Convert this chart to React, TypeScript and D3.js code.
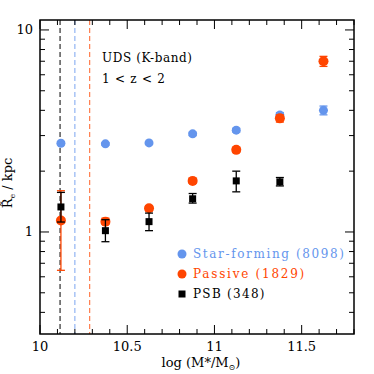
import React, { useEffect, useRef } from "react";
import * as d3 from "d3";

// log stellar mass bin centres
const massBins = [10.12, 10.375, 10.625, 10.875, 11.125, 11.375, 11.625];

// median effective radius (kpc) with error bars
const starForming = [2.75, 2.73, 2.76, 3.06, 3.19, 3.79, 4.0];
const starFormingLo = [2.7, 2.69, 2.72, 3.0, 3.12, 3.68, 3.8];
const starFormingHi = [2.8, 2.77, 2.8, 3.12, 3.26, 3.9, 4.2];

const passive = [1.14, 1.125, 1.31, 1.79, 2.55, 3.65, 7.0];
const passiveLo = [0.646, 1.09, 1.27, 1.74, 2.48, 3.5, 6.6];
const passiveHi = [1.6, 1.17, 1.35, 1.84, 2.62, 3.8, 7.4];

const psbMasses = [10.12, 10.375, 10.625, 10.875, 11.125, 11.375];
const psb = [1.33, 1.015, 1.125, 1.46, 1.79, 1.77];
const psbLo = [1.12, 0.895, 1.015, 1.39, 1.58, 1.69];
const psbHi = [1.57, 1.15, 1.24, 1.55, 2.0, 1.86];

// mass completeness limits
const limits = [
  { mass: 10.115, color: "#000000" },
  { mass: 10.2, color: "#6495ed" },
  { mass: 10.285, color: "#ff4500" },
];

const xTicks = [10, 10.5, 11, 11.5];
const yTicks = [1, 10];

const legendItems = [
  { label: "Star-forming (8098)", color: "#6495ed", shape: "circle" },
  { label: "Passive (1829)", color: "#ff4500", shape: "circle" },
  { label: "PSB (348)", color: "#000000", shape: "square" },
];

const W = 374;
const H = 374;
const margin = { left: 40, right: 20, top: 20, bottom: 40 };
const FONT = "'DejaVu Serif', serif";

const App = () => {
  const ref = useRef<SVGSVGElement>(null);

  useEffect(() => {
    const svg = d3.select(ref.current);
    svg.selectAll("*").remove();

    const x = d3.scaleLinear().domain([10, 11.8]).range([margin.left, W - margin.right]);
    const y = d3.scaleLog().domain([0.3126, 11.2]).range([H - margin.bottom, margin.top]);
    const [x0, x1] = x.range();
    const [y0, y1] = y.range();

    const g = svg.append("g");

    // dashed limits
    limits.forEach(l => {
      g.append("line")
        .attr("x1", x(l.mass)).attr("x2", x(l.mass))
        .attr("y1", y1).attr("y2", y0)
        .attr("stroke", l.color)
        .attr("stroke-width", 1)
        .attr("stroke-opacity", l.color === "#000000" ? 1 : 0.85)
        .attr("stroke-dasharray", "5,3");
    });

    // minor/major ticks
    const xMinor = d3.range(10, 11.81, 0.1);
    xMinor.forEach(v => {
      const major = Math.abs(v * 2 - Math.round(v * 2)) < 1e-6;
      const len = major ? 9 : 5;
      g.append("line").attr("x1", x(v)).attr("x2", x(v)).attr("y1", y0).attr("y2", y0 - len)
        .attr("stroke", "#000").attr("stroke-width", 1);
      g.append("line").attr("x1", x(v)).attr("x2", x(v)).attr("y1", y1).attr("y2", y1 + len)
        .attr("stroke", "#000").attr("stroke-width", 1);
    });
    const yMinor = [0.4, 0.5, 0.6, 0.7, 0.8, 0.9, 1, 2, 3, 4, 5, 6, 7, 8, 9, 10];
    yMinor.forEach(v => {
      const len = yTicks.includes(v) ? 9 : 5;
      g.append("line").attr("x1", x0).attr("x2", x0 + len).attr("y1", y(v)).attr("y2", y(v))
        .attr("stroke", "#000").attr("stroke-width", 1);
      g.append("line").attr("x1", x1).attr("x2", x1 - len).attr("y1", y(v)).attr("y2", y(v))
        .attr("stroke", "#000").attr("stroke-width", 1);
    });

    g.append("rect")
      .attr("x", x0).attr("y", y1)
      .attr("width", x1 - x0).attr("height", y0 - y1)
      .attr("fill", "none").attr("stroke", "#000").attr("stroke-width", 1.5);

    // tick labels
    xTicks.forEach(v => {
      g.append("text").attr("x", x(v)).attr("y", y0 + 17)
        .attr("text-anchor", "middle").attr("font-family", FONT).attr("font-size", 13)
        .text(String(v));
    });
    yTicks.forEach(v => {
      g.append("text").attr("x", x0 - 7).attr("y", y(v) + 4.5)
        .attr("text-anchor", "end").attr("font-family", FONT).attr("font-size", 13)
        .text(String(v));
    });

    // error bars
    const errBar = (xs: number[], lo: number[], hi: number[], color: string) => {
      xs.forEach((m, i) => {
        const cx = x(m);
        g.append("line").attr("x1", cx).attr("x2", cx).attr("y1", y(lo[i])).attr("y2", y(hi[i]))
          .attr("stroke", color).attr("stroke-width", 1.3);
        [lo[i], hi[i]].forEach(v => {
          g.append("line").attr("x1", cx - 4).attr("x2", cx + 4).attr("y1", y(v)).attr("y2", y(v))
            .attr("stroke", color).attr("stroke-width", 1.3);
        });
      });
    };

    errBar(massBins, starFormingLo, starFormingHi, "#6495ed");
    g.selectAll("circle.sf").data(starForming).enter().append("circle")
      .attr("class", "sf")
      .attr("cx", (_, i) => x(massBins[i])).attr("cy", d => y(d))
      .attr("r", 4.5).attr("fill", "#6495ed");

    errBar(massBins, passiveLo, passiveHi, "#ff4500");
    g.selectAll("circle.pa").data(passive).enter().append("circle")
      .attr("class", "pa")
      .attr("cx", (_, i) => x(massBins[i])).attr("cy", d => y(d))
      .attr("r", 5).attr("fill", "#ff4500");

    errBar(psbMasses, psbLo, psbHi, "#000");
    g.selectAll("rect.psb").data(psb).enter().append("rect")
      .attr("class", "psb")
      .attr("x", (_, i) => x(psbMasses[i]) - 3.5).attr("y", d => y(d) - 3.5)
      .attr("width", 7).attr("height", 7).attr("fill", "#000");

    // annotation
    g.append("text").attr("x", 102).attr("y", 62).attr("font-family", FONT).attr("font-size", 12)
      .attr("textLength", 90).attr("lengthAdjust", "spacing")
      .text("UDS (K-band)");
    g.append("text").attr("x", 102).attr("y", 83).attr("font-family", FONT).attr("font-size", 12)
      .attr("textLength", 63).attr("lengthAdjust", "spacing")
      .text("1 < z < 2");

    // legend
    legendItems.forEach((item, i) => {
      const ly = 254 + i * 20;
      if (item.shape === "circle") {
        g.append("circle").attr("cx", 182).attr("cy", ly).attr("r", 4.5).attr("fill", item.color);
      } else {
        g.append("rect").attr("x", 178.5).attr("y", ly - 3.5).attr("width", 7).attr("height", 7)
          .attr("fill", item.color);
      }
      g.append("text").attr("x", 193).attr("y", ly + 4).attr("font-family", FONT).attr("font-size", 12)
        .attr("fill", item.color)
        .attr("textLength", item.label.length * 7.95).attr("lengthAdjust", "spacing")
        .text(item.label);
    });

    // axis titles
    const xt = g.append("text").attr("x", 201).attr("y", 367).attr("text-anchor", "middle")
      .attr("font-family", FONT).attr("font-size", 13);
    xt.append("tspan").text("log (M*/M");
    xt.append("tspan").attr("font-size", 8).attr("dy", 3).text("\u2299");
    xt.append("tspan").attr("dy", -3).text(")");

    const yt = g.append("text").attr("transform", `translate(12,183) rotate(-90)`)
      .attr("text-anchor", "middle").attr("font-family", FONT).attr("font-size", 13);
    yt.append("tspan").text("R\u0303");
    yt.append("tspan").attr("font-size", 8).attr("dy", 3).text("e");
    yt.append("tspan").attr("dy", -3).text(" / kpc");
  }, []);

  return (
    <svg ref={ref} width={W} height={H} style={{ position: "absolute", left: 0, top: 0, background: "#fff" }} />
  );
};

export default App;
